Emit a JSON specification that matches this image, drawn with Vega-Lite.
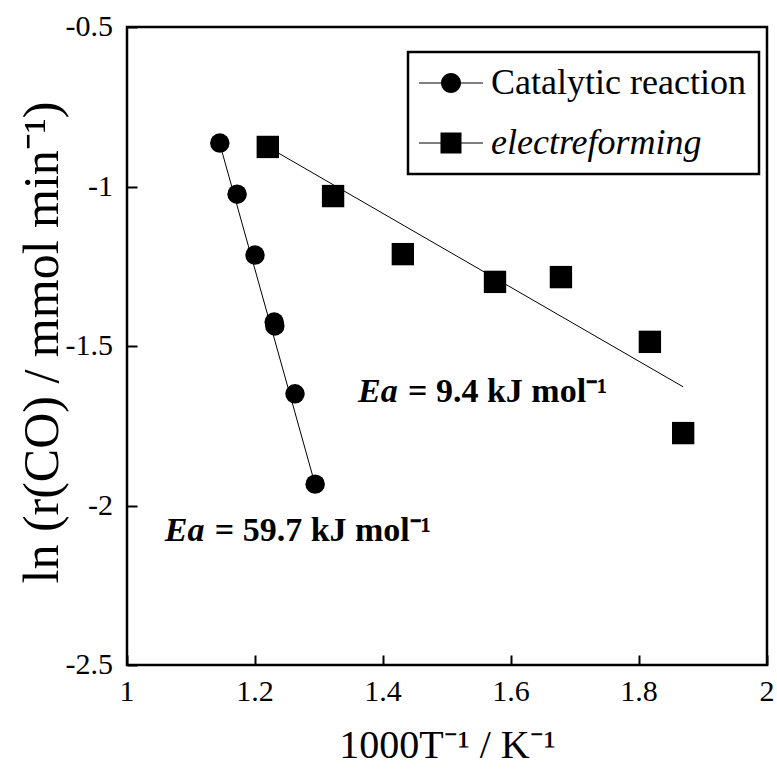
{
  "$schema": "https://vega.github.io/schema/vega-lite/v6.json",
  "width": 640,
  "height": 638,
  "autosize": {"type": "none"},
  "padding": {"left": 127, "top": 27, "right": 10, "bottom": 111},
  "background": "white",
  "config": {
    "view": {"stroke": "black", "strokeWidth": 2.5},
    "legend": {"strokeWidth": 2.5},
    "axis": {
      "grid": false,
      "domain": false,
      "ticks": true,
      "labels": false,
      "tickColor": "black",
      "tickWidth": 2,
      "tickSize": -10,
      "titleFont": "Liberation Serif",
      "titleColor": "black",
      "titleFontWeight": "normal"
    }
  },
  "datasets": {
    "pts": [
      {"series": "Catalytic reaction", "x": 1.145, "y": -0.864},
      {"series": "Catalytic reaction", "x": 1.172, "y": -1.024},
      {"series": "Catalytic reaction", "x": 1.2, "y": -1.215},
      {"series": "Catalytic reaction", "x": 1.23, "y": -1.425},
      {"series": "Catalytic reaction", "x": 1.231, "y": -1.437},
      {"series": "Catalytic reaction", "x": 1.2625, "y": -1.65},
      {"series": "Catalytic reaction", "x": 1.294, "y": -1.933},
      {"series": "electreforming", "x": 1.22, "y": -0.876},
      {"series": "electreforming", "x": 1.322, "y": -1.03},
      {"series": "electreforming", "x": 1.431, "y": -1.212},
      {"series": "electreforming", "x": 1.575, "y": -1.299},
      {"series": "electreforming", "x": 1.678, "y": -1.284},
      {"series": "electreforming", "x": 1.817, "y": -1.487},
      {"series": "electreforming", "x": 1.869, "y": -1.773}
    ],
    "fit": [
      {"series": "Catalytic reaction", "x": 1.145, "y": -0.866},
      {"series": "Catalytic reaction", "x": 1.294, "y": -1.935},
      {"series": "electreforming", "x": 1.22, "y": -0.876},
      {"series": "electreforming", "x": 1.869, "y": -1.628}
    ],
    "notes": [
      {"x": 1.361, "y": -1.644, "ea": "Ea", "rest": "= 9.4 kJ mol⁻¹"},
      {"x": 1.059, "y": -2.08, "ea": "Ea", "rest": "= 59.7 kJ mol⁻¹"}
    ],
    "xt": [
      {"v": 1, "label": "1"},
      {"v": 1.2, "label": "1.2"},
      {"v": 1.4, "label": "1.4"},
      {"v": 1.6, "label": "1.6"},
      {"v": 1.8, "label": "1.8"},
      {"v": 2, "label": "2"}
    ],
    "yt": [
      {"v": -0.5, "label": "-0.5"},
      {"v": -1, "label": "-1"},
      {"v": -1.5, "label": "-1.5"},
      {"v": -2, "label": "-2"},
      {"v": -2.5, "label": "-2.5"}
    ]
  },
  "layer": [
    {
      "data": {"name": "fit"},
      "mark": {"type": "line", "color": "black", "strokeWidth": 1},
      "encoding": {
        "x": {"field": "x", "type": "quantitative"},
        "y": {"field": "y", "type": "quantitative"},
        "detail": {"field": "series"}
      }
    },
    {
      "data": {"name": "pts"},
      "mark": {"type": "point", "filled": true, "color": "black", "opacity": 0, "size": 100},
      "encoding": {
        "x": {
          "field": "x", "type": "quantitative",
          "scale": {"domain": [1, 2], "nice": false, "zero": false},
          "axis": {"values": [1, 1.2, 1.4, 1.6, 1.8, 2], "title": "1000T⁻¹ / K⁻¹", "titleFontSize": 40, "titleBaseline": "middle", "titleY": 80}
        },
        "y": {
          "field": "y", "type": "quantitative",
          "scale": {"domain": [-2.5, -0.5], "nice": false, "zero": false},
          "axis": {"values": [-2.5, -2, -1.5, -1, -0.5], "title": "ln (r(CO) / mmol min⁻¹)", "titleFontSize": 50, "titleAngle": -90, "titleAlign": "center", "titleBaseline": "alphabetic", "titleX": -70, "titleY": 315}
        },
        "shape": {
          "field": "series", "type": "nominal",
          "scale": {"domain": ["Catalytic reaction", "electreforming"], "range": ["M-1.818,-0.04H0.223V0.04H-1.818Z M1.953,-0.04H4.0V0.04H1.953Z M2.0,0A0.909,0.909 0 1,1 0.182,0A0.909,0.909 0 1,1 2.0,0Z", "M-1.818,-0.04H0.173V0.04H-1.818Z M2.013,-0.04H4.0V0.04H2.013Z M0.136,-0.955H2.046V0.955H0.136Z"]},
          "legend": {
            "title": null,
            "orient": "none",
            "legendX": 281,
            "legendY": 25,
            "padding": 13,
            "strokeColor": "black",
            "fillColor": "white",
            "labelFont": "Liberation Serif",
            "labelFontSize": 36,
            "labelColor": "black",
            "labelFontStyle": {"expr": "datum.value === 'electreforming' ? 'italic' : 'normal'"},
            "labelOffset": 34,
            "labelLimit": 400,
            "symbolSize": 484,
            "symbolOpacity": 1,
            "symbolFillColor": "black",
            "symbolStrokeWidth": 0,
            "rowPadding": 24
          }
        }
      }
    },
    {
      "data": {"name": "pts"},
      "transform": [{"filter": "datum.series === 'Catalytic reaction'"}],
      "mark": {"type": "point", "shape": "circle", "filled": true, "color": "black", "opacity": 1, "size": 380},
      "encoding": {
        "x": {"field": "x", "type": "quantitative"},
        "y": {"field": "y", "type": "quantitative"}
      }
    },
    {
      "data": {"name": "pts"},
      "transform": [{"filter": "datum.series === 'electreforming'"}],
      "mark": {"type": "point", "shape": "square", "filled": true, "color": "black", "opacity": 1, "size": 500},
      "encoding": {
        "x": {"field": "x", "type": "quantitative"},
        "y": {"field": "y", "type": "quantitative"}
      }
    },
    {
      "data": {"name": "xt"},
      "mark": {"type": "text", "align": "center", "baseline": "middle", "dy": 27, "font": "Liberation Serif", "fontSize": 30, "color": "black"},
      "encoding": {
        "x": {"field": "v", "type": "quantitative"},
        "y": {"datum": -2.5},
        "text": {"field": "label"}
      }
    },
    {
      "data": {"name": "yt"},
      "mark": {"type": "text", "align": "right", "baseline": "middle", "dx": -14, "font": "Liberation Serif", "fontSize": 30, "color": "black"},
      "encoding": {
        "x": {"datum": 1},
        "y": {"field": "v", "type": "quantitative"},
        "text": {"field": "label"}
      }
    },
    {
      "data": {"name": "notes"},
      "mark": {"type": "text", "align": "left", "baseline": "middle", "font": "Liberation Serif", "fontSize": 34, "fontWeight": "bold", "fontStyle": "italic", "color": "black"},
      "encoding": {
        "x": {"field": "x", "type": "quantitative"},
        "y": {"field": "y", "type": "quantitative"},
        "text": {"field": "ea"}
      }
    },
    {
      "data": {"name": "notes"},
      "mark": {"type": "text", "align": "left", "baseline": "middle", "dx": 50, "font": "Liberation Serif", "fontSize": 34, "fontWeight": "bold", "color": "black"},
      "encoding": {
        "x": {"field": "x", "type": "quantitative"},
        "y": {"field": "y", "type": "quantitative"},
        "text": {"field": "rest"}
      }
    }
  ]
}
